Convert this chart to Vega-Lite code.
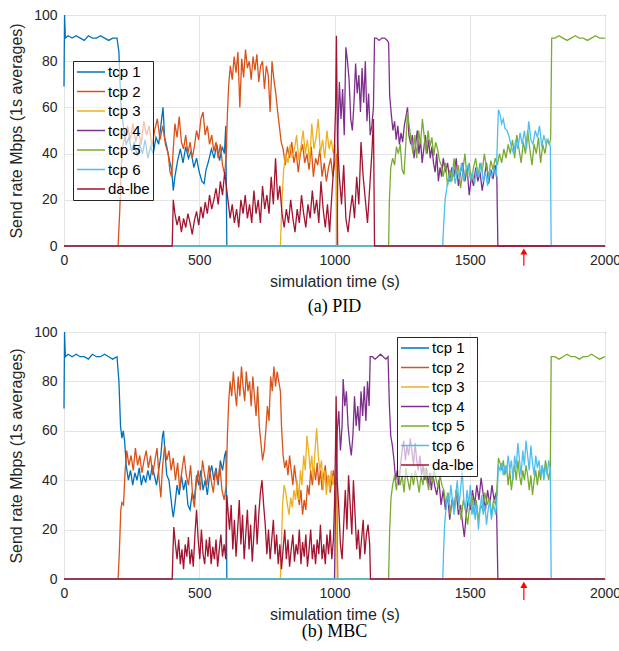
{
"$schema": "https://vega.github.io/schema/vega-lite/v6.json",
"background": "white",
"padding": {"left": 8, "top": 7, "right": 0, "bottom": 0},
"config": {
  "font": "Liberation Sans",
  "view": {"stroke": "#262626", "strokeWidth": 1},
  "axis": {"labelFontSize": 14, "titleFontSize": 16, "labelColor": "#262626", "titleColor": "#262626", "titleFontWeight": "normal", "gridColor": "#e4e4e4", "gridOpacity": 1, "domain": false, "tickSize": 0, "labelPadding": 7, "labelFlush": false},
  "axisX": {"titlePadding": 6, "format": "d"},
  "axisY": {"titlePadding": 9},
  "legend": {"title": null, "symbolType": "M-2,0H2", "symbolSize": 196, "symbolStrokeWidth": 1.5, "symbolOffset": 7, "labelOffset": 9, "labelFontSize": 15, "labelColor": "#000000", "labelExpr": "datum.label + '\u00a0\u00a0\u00a0'", "fillColor": "rgba(255,255,255,0.65)", "strokeColor": "#262626", "padding": 3, "rowPadding": 3.5},
  "title": {"font": "Liberation Serif", "fontSize": 18, "fontWeight": "normal", "color": "#000000"}
},
"datasets": {
"pid": [
{"s":"tcp 1","t":0,"v":69},{"s":"tcp 1","t":2,"v":100},{"s":"tcp 1","t":5,"v":90},{"s":"tcp 1","t":15,"v":91},{"s":"tcp 1","t":30,"v":90},{"s":"tcp 1","t":45,"v":91},{"s":"tcp 1","t":60,"v":90},{"s":"tcp 1","t":75,"v":89},{"s":"tcp 1","t":90,"v":91},{"s":"tcp 1","t":105,"v":90},{"s":"tcp 1","t":120,"v":90},{"s":"tcp 1","t":135,"v":91},{"s":"tcp 1","t":150,"v":90},{"s":"tcp 1","t":165,"v":89},{"s":"tcp 1","t":180,"v":90},{"s":"tcp 1","t":196,"v":90},{"s":"tcp 1","t":203,"v":84},{"s":"tcp 1","t":210,"v":62},{"s":"tcp 1","t":216,"v":55},{"s":"tcp 1","t":222,"v":50},{"s":"tcp 1","t":230,"v":44},{"s":"tcp 1","t":240,"v":47},{"s":"tcp 1","t":250,"v":41},{"s":"tcp 1","t":260,"v":45},{"s":"tcp 1","t":270,"v":39},{"s":"tcp 1","t":280,"v":44},{"s":"tcp 1","t":290,"v":40},{"s":"tcp 1","t":300,"v":46},{"s":"tcp 1","t":310,"v":38},{"s":"tcp 1","t":320,"v":43},{"s":"tcp 1","t":330,"v":40},{"s":"tcp 1","t":340,"v":47},{"s":"tcp 1","t":350,"v":44},{"s":"tcp 1","t":358,"v":52},{"s":"tcp 1","t":366,"v":60},{"s":"tcp 1","t":372,"v":47},{"s":"tcp 1","t":380,"v":43},{"s":"tcp 1","t":390,"v":37},{"s":"tcp 1","t":398,"v":33},{"s":"tcp 1","t":404,"v":24},{"s":"tcp 1","t":410,"v":30},{"s":"tcp 1","t":420,"v":37},{"s":"tcp 1","t":430,"v":42},{"s":"tcp 1","t":440,"v":36},{"s":"tcp 1","t":450,"v":43},{"s":"tcp 1","t":460,"v":38},{"s":"tcp 1","t":470,"v":41},{"s":"tcp 1","t":480,"v":34},{"s":"tcp 1","t":490,"v":38},{"s":"tcp 1","t":500,"v":32},{"s":"tcp 1","t":510,"v":28},{"s":"tcp 1","t":518,"v":27},{"s":"tcp 1","t":525,"v":33},{"s":"tcp 1","t":535,"v":37},{"s":"tcp 1","t":545,"v":42},{"s":"tcp 1","t":555,"v":38},{"s":"tcp 1","t":565,"v":44},{"s":"tcp 1","t":575,"v":37},{"s":"tcp 1","t":585,"v":43},{"s":"tcp 1","t":593,"v":40},{"s":"tcp 1","t":598,"v":52},{"s":"tcp 1","t":602,"v":0},{"s":"tcp 1","t":2000,"v":0},
{"s":"tcp 2","t":0,"v":0},{"s":"tcp 2","t":200,"v":0},{"s":"tcp 2","t":206,"v":15},{"s":"tcp 2","t":212,"v":35},{"s":"tcp 2","t":218,"v":44},{"s":"tcp 2","t":225,"v":47},{"s":"tcp 2","t":235,"v":52},{"s":"tcp 2","t":245,"v":46},{"s":"tcp 2","t":255,"v":53},{"s":"tcp 2","t":265,"v":45},{"s":"tcp 2","t":275,"v":50},{"s":"tcp 2","t":285,"v":44},{"s":"tcp 2","t":295,"v":54},{"s":"tcp 2","t":305,"v":48},{"s":"tcp 2","t":315,"v":52},{"s":"tcp 2","t":325,"v":43},{"s":"tcp 2","t":335,"v":50},{"s":"tcp 2","t":345,"v":55},{"s":"tcp 2","t":355,"v":46},{"s":"tcp 2","t":365,"v":52},{"s":"tcp 2","t":375,"v":44},{"s":"tcp 2","t":385,"v":40},{"s":"tcp 2","t":392,"v":32},{"s":"tcp 2","t":398,"v":30},{"s":"tcp 2","t":404,"v":42},{"s":"tcp 2","t":410,"v":53},{"s":"tcp 2","t":418,"v":47},{"s":"tcp 2","t":426,"v":56},{"s":"tcp 2","t":434,"v":45},{"s":"tcp 2","t":442,"v":42},{"s":"tcp 2","t":450,"v":48},{"s":"tcp 2","t":458,"v":40},{"s":"tcp 2","t":466,"v":45},{"s":"tcp 2","t":474,"v":38},{"s":"tcp 2","t":482,"v":43},{"s":"tcp 2","t":490,"v":50},{"s":"tcp 2","t":498,"v":46},{"s":"tcp 2","t":506,"v":55},{"s":"tcp 2","t":514,"v":58},{"s":"tcp 2","t":522,"v":48},{"s":"tcp 2","t":530,"v":52},{"s":"tcp 2","t":538,"v":44},{"s":"tcp 2","t":546,"v":48},{"s":"tcp 2","t":554,"v":41},{"s":"tcp 2","t":562,"v":45},{"s":"tcp 2","t":570,"v":38},{"s":"tcp 2","t":578,"v":44},{"s":"tcp 2","t":586,"v":35},{"s":"tcp 2","t":594,"v":31},{"s":"tcp 2","t":600,"v":40},{"s":"tcp 2","t":604,"v":57},{"s":"tcp 2","t":609,"v":70},{"s":"tcp 2","t":615,"v":78},{"s":"tcp 2","t":622,"v":72},{"s":"tcp 2","t":629,"v":82},{"s":"tcp 2","t":636,"v":75},{"s":"tcp 2","t":643,"v":84},{"s":"tcp 2","t":650,"v":60},{"s":"tcp 2","t":657,"v":81},{"s":"tcp 2","t":664,"v":73},{"s":"tcp 2","t":671,"v":85},{"s":"tcp 2","t":678,"v":77},{"s":"tcp 2","t":685,"v":80},{"s":"tcp 2","t":692,"v":72},{"s":"tcp 2","t":699,"v":82},{"s":"tcp 2","t":706,"v":76},{"s":"tcp 2","t":713,"v":83},{"s":"tcp 2","t":720,"v":71},{"s":"tcp 2","t":727,"v":78},{"s":"tcp 2","t":734,"v":80},{"s":"tcp 2","t":741,"v":68},{"s":"tcp 2","t":748,"v":78},{"s":"tcp 2","t":755,"v":74},{"s":"tcp 2","t":762,"v":58},{"s":"tcp 2","t":769,"v":80},{"s":"tcp 2","t":776,"v":72},{"s":"tcp 2","t":783,"v":66},{"s":"tcp 2","t":790,"v":58},{"s":"tcp 2","t":796,"v":52},{"s":"tcp 2","t":803,"v":45},{"s":"tcp 2","t":810,"v":42},{"s":"tcp 2","t":818,"v":35},{"s":"tcp 2","t":826,"v":43},{"s":"tcp 2","t":834,"v":38},{"s":"tcp 2","t":842,"v":45},{"s":"tcp 2","t":850,"v":36},{"s":"tcp 2","t":858,"v":41},{"s":"tcp 2","t":866,"v":32},{"s":"tcp 2","t":874,"v":40},{"s":"tcp 2","t":882,"v":44},{"s":"tcp 2","t":890,"v":36},{"s":"tcp 2","t":898,"v":40},{"s":"tcp 2","t":906,"v":33},{"s":"tcp 2","t":914,"v":43},{"s":"tcp 2","t":922,"v":30},{"s":"tcp 2","t":930,"v":38},{"s":"tcp 2","t":938,"v":35},{"s":"tcp 2","t":946,"v":42},{"s":"tcp 2","t":954,"v":30},{"s":"tcp 2","t":962,"v":36},{"s":"tcp 2","t":970,"v":28},{"s":"tcp 2","t":978,"v":34},{"s":"tcp 2","t":986,"v":38},{"s":"tcp 2","t":994,"v":30},{"s":"tcp 2","t":1002,"v":37},{"s":"tcp 2","t":1008,"v":40},{"s":"tcp 2","t":1012,"v":0},{"s":"tcp 2","t":2000,"v":0},
{"s":"tcp 3","t":0,"v":0},{"s":"tcp 3","t":800,"v":0},{"s":"tcp 3","t":806,"v":20},{"s":"tcp 3","t":812,"v":33},{"s":"tcp 3","t":820,"v":40},{"s":"tcp 3","t":828,"v":36},{"s":"tcp 3","t":836,"v":44},{"s":"tcp 3","t":844,"v":38},{"s":"tcp 3","t":852,"v":42},{"s":"tcp 3","t":860,"v":48},{"s":"tcp 3","t":868,"v":37},{"s":"tcp 3","t":876,"v":43},{"s":"tcp 3","t":884,"v":50},{"s":"tcp 3","t":892,"v":40},{"s":"tcp 3","t":900,"v":46},{"s":"tcp 3","t":908,"v":36},{"s":"tcp 3","t":916,"v":53},{"s":"tcp 3","t":924,"v":42},{"s":"tcp 3","t":932,"v":47},{"s":"tcp 3","t":940,"v":55},{"s":"tcp 3","t":948,"v":40},{"s":"tcp 3","t":956,"v":46},{"s":"tcp 3","t":964,"v":38},{"s":"tcp 3","t":972,"v":50},{"s":"tcp 3","t":980,"v":42},{"s":"tcp 3","t":988,"v":46},{"s":"tcp 3","t":996,"v":40},{"s":"tcp 3","t":1004,"v":44},{"s":"tcp 3","t":1010,"v":0},{"s":"tcp 3","t":2000,"v":0},
{"s":"tcp 4","t":0,"v":0},{"s":"tcp 4","t":1010,"v":0},{"s":"tcp 4","t":1013,"v":50},{"s":"tcp 4","t":1018,"v":71},{"s":"tcp 4","t":1024,"v":55},{"s":"tcp 4","t":1030,"v":68},{"s":"tcp 4","t":1036,"v":48},{"s":"tcp 4","t":1042,"v":86},{"s":"tcp 4","t":1048,"v":80},{"s":"tcp 4","t":1054,"v":72},{"s":"tcp 4","t":1060,"v":55},{"s":"tcp 4","t":1066,"v":50},{"s":"tcp 4","t":1072,"v":62},{"s":"tcp 4","t":1078,"v":79},{"s":"tcp 4","t":1084,"v":66},{"s":"tcp 4","t":1090,"v":74},{"s":"tcp 4","t":1096,"v":58},{"s":"tcp 4","t":1102,"v":77},{"s":"tcp 4","t":1108,"v":62},{"s":"tcp 4","t":1114,"v":80},{"s":"tcp 4","t":1120,"v":54},{"s":"tcp 4","t":1126,"v":66},{"s":"tcp 4","t":1132,"v":48},{"s":"tcp 4","t":1138,"v":52},{"s":"tcp 4","t":1144,"v":60},{"s":"tcp 4","t":1148,"v":90},{"s":"tcp 4","t":1155,"v":90},{"s":"tcp 4","t":1165,"v":89},{"s":"tcp 4","t":1175,"v":90},{"s":"tcp 4","t":1185,"v":90},{"s":"tcp 4","t":1195,"v":89},{"s":"tcp 4","t":1200,"v":88},{"s":"tcp 4","t":1204,"v":65},{"s":"tcp 4","t":1210,"v":57},{"s":"tcp 4","t":1216,"v":50},{"s":"tcp 4","t":1222,"v":54},{"s":"tcp 4","t":1228,"v":46},{"s":"tcp 4","t":1234,"v":52},{"s":"tcp 4","t":1240,"v":44},{"s":"tcp 4","t":1246,"v":49},{"s":"tcp 4","t":1252,"v":45},{"s":"tcp 4","t":1258,"v":52},{"s":"tcp 4","t":1264,"v":56},{"s":"tcp 4","t":1270,"v":60},{"s":"tcp 4","t":1275,"v":48},{"s":"tcp 4","t":1282,"v":44},{"s":"tcp 4","t":1288,"v":48},{"s":"tcp 4","t":1294,"v":38},{"s":"tcp 4","t":1300,"v":44},{"s":"tcp 4","t":1306,"v":50},{"s":"tcp 4","t":1312,"v":40},{"s":"tcp 4","t":1318,"v":46},{"s":"tcp 4","t":1324,"v":36},{"s":"tcp 4","t":1330,"v":42},{"s":"tcp 4","t":1336,"v":48},{"s":"tcp 4","t":1342,"v":40},{"s":"tcp 4","t":1348,"v":46},{"s":"tcp 4","t":1354,"v":38},{"s":"tcp 4","t":1360,"v":43},{"s":"tcp 4","t":1366,"v":36},{"s":"tcp 4","t":1372,"v":32},{"s":"tcp 4","t":1378,"v":40},{"s":"tcp 4","t":1384,"v":28},{"s":"tcp 4","t":1390,"v":34},{"s":"tcp 4","t":1396,"v":30},{"s":"tcp 4","t":1402,"v":38},{"s":"tcp 4","t":1410,"v":32},{"s":"tcp 4","t":1418,"v":36},{"s":"tcp 4","t":1426,"v":28},{"s":"tcp 4","t":1434,"v":34},{"s":"tcp 4","t":1442,"v":30},{"s":"tcp 4","t":1450,"v":38},{"s":"tcp 4","t":1458,"v":26},{"s":"tcp 4","t":1466,"v":32},{"s":"tcp 4","t":1474,"v":36},{"s":"tcp 4","t":1482,"v":28},{"s":"tcp 4","t":1490,"v":34},{"s":"tcp 4","t":1498,"v":22},{"s":"tcp 4","t":1506,"v":30},{"s":"tcp 4","t":1514,"v":26},{"s":"tcp 4","t":1522,"v":34},{"s":"tcp 4","t":1530,"v":28},{"s":"tcp 4","t":1538,"v":32},{"s":"tcp 4","t":1546,"v":24},{"s":"tcp 4","t":1554,"v":30},{"s":"tcp 4","t":1562,"v":36},{"s":"tcp 4","t":1570,"v":27},{"s":"tcp 4","t":1578,"v":33},{"s":"tcp 4","t":1586,"v":29},{"s":"tcp 4","t":1594,"v":35},{"s":"tcp 4","t":1600,"v":30},{"s":"tcp 4","t":1604,"v":0},{"s":"tcp 4","t":2000,"v":0},
{"s":"tcp 5","t":0,"v":0},{"s":"tcp 5","t":1200,"v":0},{"s":"tcp 5","t":1203,"v":20},{"s":"tcp 5","t":1208,"v":34},{"s":"tcp 5","t":1215,"v":38},{"s":"tcp 5","t":1222,"v":35},{"s":"tcp 5","t":1229,"v":43},{"s":"tcp 5","t":1236,"v":40},{"s":"tcp 5","t":1243,"v":44},{"s":"tcp 5","t":1250,"v":33},{"s":"tcp 5","t":1257,"v":31},{"s":"tcp 5","t":1264,"v":45},{"s":"tcp 5","t":1270,"v":58},{"s":"tcp 5","t":1276,"v":52},{"s":"tcp 5","t":1283,"v":46},{"s":"tcp 5","t":1290,"v":40},{"s":"tcp 5","t":1297,"v":48},{"s":"tcp 5","t":1304,"v":38},{"s":"tcp 5","t":1311,"v":50},{"s":"tcp 5","t":1318,"v":44},{"s":"tcp 5","t":1325,"v":55},{"s":"tcp 5","t":1332,"v":47},{"s":"tcp 5","t":1339,"v":40},{"s":"tcp 5","t":1346,"v":50},{"s":"tcp 5","t":1353,"v":43},{"s":"tcp 5","t":1360,"v":47},{"s":"tcp 5","t":1367,"v":39},{"s":"tcp 5","t":1374,"v":45},{"s":"tcp 5","t":1381,"v":42},{"s":"tcp 5","t":1388,"v":37},{"s":"tcp 5","t":1395,"v":35},{"s":"tcp 5","t":1402,"v":30},{"s":"tcp 5","t":1410,"v":36},{"s":"tcp 5","t":1418,"v":26},{"s":"tcp 5","t":1426,"v":33},{"s":"tcp 5","t":1434,"v":28},{"s":"tcp 5","t":1442,"v":38},{"s":"tcp 5","t":1450,"v":30},{"s":"tcp 5","t":1458,"v":35},{"s":"tcp 5","t":1466,"v":25},{"s":"tcp 5","t":1474,"v":32},{"s":"tcp 5","t":1482,"v":40},{"s":"tcp 5","t":1490,"v":30},{"s":"tcp 5","t":1498,"v":36},{"s":"tcp 5","t":1506,"v":28},{"s":"tcp 5","t":1514,"v":34},{"s":"tcp 5","t":1522,"v":38},{"s":"tcp 5","t":1530,"v":30},{"s":"tcp 5","t":1538,"v":36},{"s":"tcp 5","t":1546,"v":32},{"s":"tcp 5","t":1554,"v":40},{"s":"tcp 5","t":1562,"v":34},{"s":"tcp 5","t":1570,"v":30},{"s":"tcp 5","t":1578,"v":37},{"s":"tcp 5","t":1586,"v":33},{"s":"tcp 5","t":1594,"v":38},{"s":"tcp 5","t":1602,"v":35},{"s":"tcp 5","t":1610,"v":40},{"s":"tcp 5","t":1618,"v":36},{"s":"tcp 5","t":1626,"v":42},{"s":"tcp 5","t":1634,"v":38},{"s":"tcp 5","t":1642,"v":44},{"s":"tcp 5","t":1650,"v":40},{"s":"tcp 5","t":1658,"v":46},{"s":"tcp 5","t":1666,"v":38},{"s":"tcp 5","t":1674,"v":48},{"s":"tcp 5","t":1682,"v":42},{"s":"tcp 5","t":1690,"v":36},{"s":"tcp 5","t":1698,"v":45},{"s":"tcp 5","t":1706,"v":40},{"s":"tcp 5","t":1714,"v":50},{"s":"tcp 5","t":1722,"v":42},{"s":"tcp 5","t":1730,"v":35},{"s":"tcp 5","t":1738,"v":44},{"s":"tcp 5","t":1746,"v":40},{"s":"tcp 5","t":1754,"v":47},{"s":"tcp 5","t":1762,"v":36},{"s":"tcp 5","t":1770,"v":44},{"s":"tcp 5","t":1778,"v":40},{"s":"tcp 5","t":1786,"v":46},{"s":"tcp 5","t":1794,"v":44},{"s":"tcp 5","t":1799,"v":46},{"s":"tcp 5","t":1803,"v":90},{"s":"tcp 5","t":1815,"v":90},{"s":"tcp 5","t":1830,"v":91},{"s":"tcp 5","t":1845,"v":90},{"s":"tcp 5","t":1860,"v":89},{"s":"tcp 5","t":1875,"v":90},{"s":"tcp 5","t":1890,"v":91},{"s":"tcp 5","t":1905,"v":90},{"s":"tcp 5","t":1920,"v":90},{"s":"tcp 5","t":1935,"v":89},{"s":"tcp 5","t":1950,"v":90},{"s":"tcp 5","t":1965,"v":91},{"s":"tcp 5","t":1980,"v":90},{"s":"tcp 5","t":2000,"v":90},
{"s":"tcp 6","t":0,"v":0},{"s":"tcp 6","t":1400,"v":0},{"s":"tcp 6","t":1404,"v":10},{"s":"tcp 6","t":1409,"v":20},{"s":"tcp 6","t":1415,"v":25},{"s":"tcp 6","t":1422,"v":30},{"s":"tcp 6","t":1430,"v":28},{"s":"tcp 6","t":1438,"v":34},{"s":"tcp 6","t":1446,"v":27},{"s":"tcp 6","t":1454,"v":32},{"s":"tcp 6","t":1462,"v":30},{"s":"tcp 6","t":1470,"v":36},{"s":"tcp 6","t":1478,"v":28},{"s":"tcp 6","t":1486,"v":33},{"s":"tcp 6","t":1494,"v":35},{"s":"tcp 6","t":1502,"v":29},{"s":"tcp 6","t":1510,"v":32},{"s":"tcp 6","t":1518,"v":27},{"s":"tcp 6","t":1526,"v":34},{"s":"tcp 6","t":1534,"v":30},{"s":"tcp 6","t":1542,"v":36},{"s":"tcp 6","t":1550,"v":28},{"s":"tcp 6","t":1558,"v":32},{"s":"tcp 6","t":1566,"v":26},{"s":"tcp 6","t":1574,"v":33},{"s":"tcp 6","t":1582,"v":30},{"s":"tcp 6","t":1590,"v":34},{"s":"tcp 6","t":1598,"v":30},{"s":"tcp 6","t":1602,"v":45},{"s":"tcp 6","t":1606,"v":59},{"s":"tcp 6","t":1612,"v":57},{"s":"tcp 6","t":1618,"v":53},{"s":"tcp 6","t":1624,"v":55},{"s":"tcp 6","t":1630,"v":51},{"s":"tcp 6","t":1638,"v":50},{"s":"tcp 6","t":1646,"v":47},{"s":"tcp 6","t":1654,"v":43},{"s":"tcp 6","t":1662,"v":40},{"s":"tcp 6","t":1670,"v":46},{"s":"tcp 6","t":1678,"v":42},{"s":"tcp 6","t":1686,"v":49},{"s":"tcp 6","t":1694,"v":44},{"s":"tcp 6","t":1702,"v":50},{"s":"tcp 6","t":1710,"v":42},{"s":"tcp 6","t":1718,"v":54},{"s":"tcp 6","t":1726,"v":46},{"s":"tcp 6","t":1734,"v":44},{"s":"tcp 6","t":1742,"v":50},{"s":"tcp 6","t":1750,"v":47},{"s":"tcp 6","t":1758,"v":52},{"s":"tcp 6","t":1766,"v":43},{"s":"tcp 6","t":1774,"v":48},{"s":"tcp 6","t":1782,"v":44},{"s":"tcp 6","t":1790,"v":46},{"s":"tcp 6","t":1798,"v":43},{"s":"tcp 6","t":1801,"v":0},{"s":"tcp 6","t":2000,"v":0},
{"s":"da-lbe","t":0,"v":0},{"s":"da-lbe","t":400,"v":0},{"s":"da-lbe","t":404,"v":20},{"s":"da-lbe","t":410,"v":14},{"s":"da-lbe","t":418,"v":9},{"s":"da-lbe","t":426,"v":13},{"s":"da-lbe","t":434,"v":6},{"s":"da-lbe","t":442,"v":12},{"s":"da-lbe","t":450,"v":8},{"s":"da-lbe","t":458,"v":14},{"s":"da-lbe","t":466,"v":10},{"s":"da-lbe","t":474,"v":5},{"s":"da-lbe","t":482,"v":11},{"s":"da-lbe","t":490,"v":15},{"s":"da-lbe","t":498,"v":9},{"s":"da-lbe","t":506,"v":17},{"s":"da-lbe","t":514,"v":12},{"s":"da-lbe","t":522,"v":19},{"s":"da-lbe","t":530,"v":14},{"s":"da-lbe","t":538,"v":22},{"s":"da-lbe","t":546,"v":16},{"s":"da-lbe","t":554,"v":20},{"s":"da-lbe","t":562,"v":25},{"s":"da-lbe","t":570,"v":18},{"s":"da-lbe","t":578,"v":28},{"s":"da-lbe","t":586,"v":22},{"s":"da-lbe","t":594,"v":32},{"s":"da-lbe","t":600,"v":26},{"s":"da-lbe","t":606,"v":20},{"s":"da-lbe","t":614,"v":12},{"s":"da-lbe","t":622,"v":18},{"s":"da-lbe","t":630,"v":10},{"s":"da-lbe","t":638,"v":16},{"s":"da-lbe","t":646,"v":8},{"s":"da-lbe","t":654,"v":20},{"s":"da-lbe","t":662,"v":14},{"s":"da-lbe","t":670,"v":22},{"s":"da-lbe","t":678,"v":12},{"s":"da-lbe","t":686,"v":18},{"s":"da-lbe","t":694,"v":10},{"s":"da-lbe","t":702,"v":24},{"s":"da-lbe","t":710,"v":14},{"s":"da-lbe","t":718,"v":20},{"s":"da-lbe","t":726,"v":10},{"s":"da-lbe","t":734,"v":26},{"s":"da-lbe","t":742,"v":16},{"s":"da-lbe","t":750,"v":22},{"s":"da-lbe","t":758,"v":14},{"s":"da-lbe","t":766,"v":30},{"s":"da-lbe","t":774,"v":18},{"s":"da-lbe","t":782,"v":38},{"s":"da-lbe","t":790,"v":20},{"s":"da-lbe","t":798,"v":26},{"s":"da-lbe","t":806,"v":14},{"s":"da-lbe","t":814,"v":8},{"s":"da-lbe","t":822,"v":16},{"s":"da-lbe","t":830,"v":10},{"s":"da-lbe","t":838,"v":20},{"s":"da-lbe","t":846,"v":12},{"s":"da-lbe","t":854,"v":6},{"s":"da-lbe","t":862,"v":16},{"s":"da-lbe","t":870,"v":10},{"s":"da-lbe","t":878,"v":22},{"s":"da-lbe","t":886,"v":14},{"s":"da-lbe","t":894,"v":8},{"s":"da-lbe","t":902,"v":18},{"s":"da-lbe","t":910,"v":12},{"s":"da-lbe","t":918,"v":24},{"s":"da-lbe","t":926,"v":14},{"s":"da-lbe","t":934,"v":20},{"s":"da-lbe","t":942,"v":10},{"s":"da-lbe","t":950,"v":28},{"s":"da-lbe","t":958,"v":16},{"s":"da-lbe","t":966,"v":8},{"s":"da-lbe","t":974,"v":18},{"s":"da-lbe","t":982,"v":6},{"s":"da-lbe","t":990,"v":22},{"s":"da-lbe","t":998,"v":36},{"s":"da-lbe","t":1004,"v":60},{"s":"da-lbe","t":1007,"v":91},{"s":"da-lbe","t":1011,"v":45},{"s":"da-lbe","t":1018,"v":30},{"s":"da-lbe","t":1026,"v":18},{"s":"da-lbe","t":1034,"v":35},{"s":"da-lbe","t":1042,"v":12},{"s":"da-lbe","t":1050,"v":6},{"s":"da-lbe","t":1058,"v":15},{"s":"da-lbe","t":1066,"v":22},{"s":"da-lbe","t":1074,"v":12},{"s":"da-lbe","t":1082,"v":30},{"s":"da-lbe","t":1090,"v":18},{"s":"da-lbe","t":1098,"v":45},{"s":"da-lbe","t":1106,"v":30},{"s":"da-lbe","t":1114,"v":20},{"s":"da-lbe","t":1122,"v":10},{"s":"da-lbe","t":1130,"v":25},{"s":"da-lbe","t":1138,"v":40},{"s":"da-lbe","t":1144,"v":55},{"s":"da-lbe","t":1148,"v":0},{"s":"da-lbe","t":2000,"v":0}
],
"mbc": [
{"s":"tcp 1","t":0,"v":69},{"s":"tcp 1","t":2,"v":100},{"s":"tcp 1","t":5,"v":90},{"s":"tcp 1","t":15,"v":91},{"s":"tcp 1","t":30,"v":90},{"s":"tcp 1","t":45,"v":91},{"s":"tcp 1","t":60,"v":90},{"s":"tcp 1","t":75,"v":90},{"s":"tcp 1","t":90,"v":89},{"s":"tcp 1","t":105,"v":91},{"s":"tcp 1","t":120,"v":90},{"s":"tcp 1","t":135,"v":90},{"s":"tcp 1","t":150,"v":91},{"s":"tcp 1","t":165,"v":90},{"s":"tcp 1","t":180,"v":89},{"s":"tcp 1","t":196,"v":90},{"s":"tcp 1","t":203,"v":80},{"s":"tcp 1","t":209,"v":62},{"s":"tcp 1","t":214,"v":57},{"s":"tcp 1","t":219,"v":60},{"s":"tcp 1","t":224,"v":56},{"s":"tcp 1","t":230,"v":46},{"s":"tcp 1","t":238,"v":40},{"s":"tcp 1","t":246,"v":44},{"s":"tcp 1","t":254,"v":38},{"s":"tcp 1","t":262,"v":43},{"s":"tcp 1","t":270,"v":40},{"s":"tcp 1","t":278,"v":45},{"s":"tcp 1","t":286,"v":38},{"s":"tcp 1","t":294,"v":42},{"s":"tcp 1","t":302,"v":39},{"s":"tcp 1","t":310,"v":44},{"s":"tcp 1","t":318,"v":40},{"s":"tcp 1","t":326,"v":46},{"s":"tcp 1","t":334,"v":42},{"s":"tcp 1","t":342,"v":38},{"s":"tcp 1","t":350,"v":44},{"s":"tcp 1","t":358,"v":50},{"s":"tcp 1","t":364,"v":58},{"s":"tcp 1","t":368,"v":60},{"s":"tcp 1","t":374,"v":50},{"s":"tcp 1","t":380,"v":42},{"s":"tcp 1","t":388,"v":40},{"s":"tcp 1","t":394,"v":34},{"s":"tcp 1","t":400,"v":28},{"s":"tcp 1","t":404,"v":25},{"s":"tcp 1","t":410,"v":30},{"s":"tcp 1","t":418,"v":38},{"s":"tcp 1","t":426,"v":34},{"s":"tcp 1","t":434,"v":42},{"s":"tcp 1","t":442,"v":36},{"s":"tcp 1","t":450,"v":40},{"s":"tcp 1","t":458,"v":30},{"s":"tcp 1","t":466,"v":28},{"s":"tcp 1","t":474,"v":35},{"s":"tcp 1","t":482,"v":32},{"s":"tcp 1","t":490,"v":42},{"s":"tcp 1","t":498,"v":38},{"s":"tcp 1","t":506,"v":44},{"s":"tcp 1","t":514,"v":36},{"s":"tcp 1","t":522,"v":40},{"s":"tcp 1","t":530,"v":34},{"s":"tcp 1","t":538,"v":42},{"s":"tcp 1","t":546,"v":46},{"s":"tcp 1","t":554,"v":40},{"s":"tcp 1","t":562,"v":45},{"s":"tcp 1","t":570,"v":38},{"s":"tcp 1","t":578,"v":48},{"s":"tcp 1","t":586,"v":44},{"s":"tcp 1","t":594,"v":50},{"s":"tcp 1","t":599,"v":52},{"s":"tcp 1","t":602,"v":0},{"s":"tcp 1","t":2000,"v":0},
{"s":"tcp 2","t":0,"v":0},{"s":"tcp 2","t":200,"v":0},{"s":"tcp 2","t":205,"v":12},{"s":"tcp 2","t":210,"v":28},{"s":"tcp 2","t":214,"v":31},{"s":"tcp 2","t":220,"v":30},{"s":"tcp 2","t":226,"v":44},{"s":"tcp 2","t":232,"v":52},{"s":"tcp 2","t":240,"v":46},{"s":"tcp 2","t":248,"v":50},{"s":"tcp 2","t":256,"v":44},{"s":"tcp 2","t":264,"v":53},{"s":"tcp 2","t":272,"v":46},{"s":"tcp 2","t":280,"v":50},{"s":"tcp 2","t":288,"v":43},{"s":"tcp 2","t":296,"v":48},{"s":"tcp 2","t":304,"v":52},{"s":"tcp 2","t":312,"v":45},{"s":"tcp 2","t":320,"v":50},{"s":"tcp 2","t":328,"v":42},{"s":"tcp 2","t":336,"v":48},{"s":"tcp 2","t":344,"v":53},{"s":"tcp 2","t":352,"v":40},{"s":"tcp 2","t":358,"v":33},{"s":"tcp 2","t":364,"v":45},{"s":"tcp 2","t":372,"v":54},{"s":"tcp 2","t":380,"v":48},{"s":"tcp 2","t":388,"v":52},{"s":"tcp 2","t":396,"v":44},{"s":"tcp 2","t":404,"v":49},{"s":"tcp 2","t":412,"v":40},{"s":"tcp 2","t":420,"v":47},{"s":"tcp 2","t":428,"v":36},{"s":"tcp 2","t":436,"v":44},{"s":"tcp 2","t":444,"v":50},{"s":"tcp 2","t":452,"v":42},{"s":"tcp 2","t":460,"v":38},{"s":"tcp 2","t":468,"v":46},{"s":"tcp 2","t":476,"v":33},{"s":"tcp 2","t":482,"v":29},{"s":"tcp 2","t":488,"v":38},{"s":"tcp 2","t":496,"v":44},{"s":"tcp 2","t":504,"v":36},{"s":"tcp 2","t":512,"v":48},{"s":"tcp 2","t":520,"v":42},{"s":"tcp 2","t":528,"v":38},{"s":"tcp 2","t":536,"v":46},{"s":"tcp 2","t":544,"v":40},{"s":"tcp 2","t":552,"v":35},{"s":"tcp 2","t":560,"v":44},{"s":"tcp 2","t":568,"v":39},{"s":"tcp 2","t":576,"v":46},{"s":"tcp 2","t":584,"v":36},{"s":"tcp 2","t":592,"v":32},{"s":"tcp 2","t":600,"v":38},{"s":"tcp 2","t":604,"v":58},{"s":"tcp 2","t":609,"v":72},{"s":"tcp 2","t":614,"v":80},{"s":"tcp 2","t":620,"v":74},{"s":"tcp 2","t":626,"v":84},{"s":"tcp 2","t":632,"v":76},{"s":"tcp 2","t":638,"v":70},{"s":"tcp 2","t":644,"v":82},{"s":"tcp 2","t":650,"v":74},{"s":"tcp 2","t":656,"v":86},{"s":"tcp 2","t":662,"v":78},{"s":"tcp 2","t":668,"v":72},{"s":"tcp 2","t":674,"v":84},{"s":"tcp 2","t":680,"v":76},{"s":"tcp 2","t":686,"v":80},{"s":"tcp 2","t":692,"v":70},{"s":"tcp 2","t":698,"v":82},{"s":"tcp 2","t":704,"v":74},{"s":"tcp 2","t":710,"v":66},{"s":"tcp 2","t":716,"v":78},{"s":"tcp 2","t":722,"v":62},{"s":"tcp 2","t":728,"v":55},{"s":"tcp 2","t":734,"v":48},{"s":"tcp 2","t":740,"v":52},{"s":"tcp 2","t":746,"v":60},{"s":"tcp 2","t":752,"v":70},{"s":"tcp 2","t":758,"v":64},{"s":"tcp 2","t":764,"v":82},{"s":"tcp 2","t":770,"v":76},{"s":"tcp 2","t":776,"v":86},{"s":"tcp 2","t":782,"v":78},{"s":"tcp 2","t":788,"v":84},{"s":"tcp 2","t":794,"v":80},{"s":"tcp 2","t":800,"v":76},{"s":"tcp 2","t":804,"v":62},{"s":"tcp 2","t":810,"v":50},{"s":"tcp 2","t":816,"v":45},{"s":"tcp 2","t":822,"v":48},{"s":"tcp 2","t":828,"v":42},{"s":"tcp 2","t":834,"v":50},{"s":"tcp 2","t":840,"v":44},{"s":"tcp 2","t":846,"v":38},{"s":"tcp 2","t":852,"v":46},{"s":"tcp 2","t":858,"v":40},{"s":"tcp 2","t":864,"v":34},{"s":"tcp 2","t":870,"v":30},{"s":"tcp 2","t":876,"v":36},{"s":"tcp 2","t":882,"v":26},{"s":"tcp 2","t":888,"v":32},{"s":"tcp 2","t":894,"v":28},{"s":"tcp 2","t":900,"v":38},{"s":"tcp 2","t":906,"v":34},{"s":"tcp 2","t":912,"v":44},{"s":"tcp 2","t":918,"v":38},{"s":"tcp 2","t":924,"v":45},{"s":"tcp 2","t":930,"v":40},{"s":"tcp 2","t":936,"v":47},{"s":"tcp 2","t":942,"v":38},{"s":"tcp 2","t":948,"v":44},{"s":"tcp 2","t":954,"v":36},{"s":"tcp 2","t":960,"v":42},{"s":"tcp 2","t":966,"v":46},{"s":"tcp 2","t":972,"v":38},{"s":"tcp 2","t":978,"v":42},{"s":"tcp 2","t":984,"v":35},{"s":"tcp 2","t":990,"v":40},{"s":"tcp 2","t":996,"v":44},{"s":"tcp 2","t":1002,"v":38},{"s":"tcp 2","t":1008,"v":41},{"s":"tcp 2","t":1012,"v":0},{"s":"tcp 2","t":2000,"v":0},
{"s":"tcp 3","t":0,"v":0},{"s":"tcp 3","t":800,"v":0},{"s":"tcp 3","t":804,"v":15},{"s":"tcp 3","t":808,"v":30},{"s":"tcp 3","t":814,"v":38},{"s":"tcp 3","t":820,"v":35},{"s":"tcp 3","t":826,"v":30},{"s":"tcp 3","t":832,"v":26},{"s":"tcp 3","t":838,"v":33},{"s":"tcp 3","t":844,"v":29},{"s":"tcp 3","t":850,"v":36},{"s":"tcp 3","t":856,"v":32},{"s":"tcp 3","t":862,"v":40},{"s":"tcp 3","t":868,"v":32},{"s":"tcp 3","t":874,"v":44},{"s":"tcp 3","t":880,"v":38},{"s":"tcp 3","t":886,"v":50},{"s":"tcp 3","t":892,"v":44},{"s":"tcp 3","t":898,"v":58},{"s":"tcp 3","t":904,"v":52},{"s":"tcp 3","t":910,"v":44},{"s":"tcp 3","t":916,"v":50},{"s":"tcp 3","t":922,"v":40},{"s":"tcp 3","t":928,"v":52},{"s":"tcp 3","t":934,"v":61},{"s":"tcp 3","t":940,"v":50},{"s":"tcp 3","t":946,"v":44},{"s":"tcp 3","t":952,"v":48},{"s":"tcp 3","t":958,"v":36},{"s":"tcp 3","t":964,"v":44},{"s":"tcp 3","t":970,"v":34},{"s":"tcp 3","t":976,"v":42},{"s":"tcp 3","t":982,"v":36},{"s":"tcp 3","t":988,"v":44},{"s":"tcp 3","t":994,"v":38},{"s":"tcp 3","t":1000,"v":42},{"s":"tcp 3","t":1006,"v":40},{"s":"tcp 3","t":1010,"v":0},{"s":"tcp 3","t":2000,"v":0},
{"s":"tcp 4","t":0,"v":0},{"s":"tcp 4","t":1000,"v":0},{"s":"tcp 4","t":1004,"v":30},{"s":"tcp 4","t":1010,"v":60},{"s":"tcp 4","t":1016,"v":68},{"s":"tcp 4","t":1022,"v":52},{"s":"tcp 4","t":1028,"v":62},{"s":"tcp 4","t":1032,"v":81},{"s":"tcp 4","t":1038,"v":70},{"s":"tcp 4","t":1044,"v":76},{"s":"tcp 4","t":1050,"v":62},{"s":"tcp 4","t":1056,"v":55},{"s":"tcp 4","t":1062,"v":50},{"s":"tcp 4","t":1068,"v":58},{"s":"tcp 4","t":1074,"v":74},{"s":"tcp 4","t":1080,"v":62},{"s":"tcp 4","t":1086,"v":70},{"s":"tcp 4","t":1092,"v":60},{"s":"tcp 4","t":1098,"v":76},{"s":"tcp 4","t":1104,"v":66},{"s":"tcp 4","t":1110,"v":78},{"s":"tcp 4","t":1116,"v":64},{"s":"tcp 4","t":1122,"v":80},{"s":"tcp 4","t":1128,"v":70},{"s":"tcp 4","t":1132,"v":90},{"s":"tcp 4","t":1140,"v":90},{"s":"tcp 4","t":1150,"v":89},{"s":"tcp 4","t":1160,"v":90},{"s":"tcp 4","t":1170,"v":91},{"s":"tcp 4","t":1180,"v":90},{"s":"tcp 4","t":1190,"v":89},{"s":"tcp 4","t":1198,"v":90},{"s":"tcp 4","t":1203,"v":70},{"s":"tcp 4","t":1208,"v":58},{"s":"tcp 4","t":1214,"v":54},{"s":"tcp 4","t":1220,"v":48},{"s":"tcp 4","t":1226,"v":40},{"s":"tcp 4","t":1232,"v":44},{"s":"tcp 4","t":1238,"v":38},{"s":"tcp 4","t":1244,"v":46},{"s":"tcp 4","t":1250,"v":52},{"s":"tcp 4","t":1256,"v":56},{"s":"tcp 4","t":1262,"v":48},{"s":"tcp 4","t":1268,"v":54},{"s":"tcp 4","t":1274,"v":50},{"s":"tcp 4","t":1280,"v":57},{"s":"tcp 4","t":1286,"v":52},{"s":"tcp 4","t":1292,"v":46},{"s":"tcp 4","t":1298,"v":55},{"s":"tcp 4","t":1304,"v":48},{"s":"tcp 4","t":1310,"v":44},{"s":"tcp 4","t":1316,"v":50},{"s":"tcp 4","t":1322,"v":42},{"s":"tcp 4","t":1328,"v":46},{"s":"tcp 4","t":1334,"v":40},{"s":"tcp 4","t":1340,"v":45},{"s":"tcp 4","t":1346,"v":38},{"s":"tcp 4","t":1352,"v":43},{"s":"tcp 4","t":1358,"v":36},{"s":"tcp 4","t":1364,"v":42},{"s":"tcp 4","t":1370,"v":38},{"s":"tcp 4","t":1378,"v":34},{"s":"tcp 4","t":1386,"v":40},{"s":"tcp 4","t":1394,"v":30},{"s":"tcp 4","t":1402,"v":36},{"s":"tcp 4","t":1410,"v":28},{"s":"tcp 4","t":1418,"v":34},{"s":"tcp 4","t":1426,"v":24},{"s":"tcp 4","t":1434,"v":32},{"s":"tcp 4","t":1442,"v":28},{"s":"tcp 4","t":1450,"v":36},{"s":"tcp 4","t":1458,"v":26},{"s":"tcp 4","t":1466,"v":30},{"s":"tcp 4","t":1474,"v":22},{"s":"tcp 4","t":1480,"v":17},{"s":"tcp 4","t":1486,"v":25},{"s":"tcp 4","t":1494,"v":32},{"s":"tcp 4","t":1502,"v":28},{"s":"tcp 4","t":1510,"v":36},{"s":"tcp 4","t":1518,"v":30},{"s":"tcp 4","t":1526,"v":38},{"s":"tcp 4","t":1534,"v":32},{"s":"tcp 4","t":1542,"v":41},{"s":"tcp 4","t":1550,"v":34},{"s":"tcp 4","t":1558,"v":28},{"s":"tcp 4","t":1566,"v":36},{"s":"tcp 4","t":1574,"v":30},{"s":"tcp 4","t":1582,"v":38},{"s":"tcp 4","t":1590,"v":32},{"s":"tcp 4","t":1598,"v":35},{"s":"tcp 4","t":1604,"v":0},{"s":"tcp 4","t":2000,"v":0},
{"s":"tcp 5","t":0,"v":0},{"s":"tcp 5","t":1200,"v":0},{"s":"tcp 5","t":1204,"v":20},{"s":"tcp 5","t":1209,"v":33},{"s":"tcp 5","t":1215,"v":38},{"s":"tcp 5","t":1222,"v":42},{"s":"tcp 5","t":1229,"v":36},{"s":"tcp 5","t":1236,"v":44},{"s":"tcp 5","t":1243,"v":38},{"s":"tcp 5","t":1250,"v":42},{"s":"tcp 5","t":1257,"v":35},{"s":"tcp 5","t":1264,"v":45},{"s":"tcp 5","t":1271,"v":40},{"s":"tcp 5","t":1278,"v":36},{"s":"tcp 5","t":1285,"v":43},{"s":"tcp 5","t":1292,"v":38},{"s":"tcp 5","t":1299,"v":44},{"s":"tcp 5","t":1306,"v":40},{"s":"tcp 5","t":1313,"v":35},{"s":"tcp 5","t":1320,"v":42},{"s":"tcp 5","t":1327,"v":38},{"s":"tcp 5","t":1334,"v":45},{"s":"tcp 5","t":1341,"v":40},{"s":"tcp 5","t":1348,"v":36},{"s":"tcp 5","t":1355,"v":43},{"s":"tcp 5","t":1362,"v":39},{"s":"tcp 5","t":1369,"v":44},{"s":"tcp 5","t":1376,"v":40},{"s":"tcp 5","t":1383,"v":37},{"s":"tcp 5","t":1390,"v":42},{"s":"tcp 5","t":1397,"v":38},{"s":"tcp 5","t":1404,"v":36},{"s":"tcp 5","t":1412,"v":30},{"s":"tcp 5","t":1420,"v":35},{"s":"tcp 5","t":1428,"v":26},{"s":"tcp 5","t":1436,"v":33},{"s":"tcp 5","t":1444,"v":28},{"s":"tcp 5","t":1452,"v":36},{"s":"tcp 5","t":1460,"v":30},{"s":"tcp 5","t":1468,"v":24},{"s":"tcp 5","t":1476,"v":32},{"s":"tcp 5","t":1484,"v":28},{"s":"tcp 5","t":1492,"v":22},{"s":"tcp 5","t":1500,"v":30},{"s":"tcp 5","t":1508,"v":34},{"s":"tcp 5","t":1516,"v":26},{"s":"tcp 5","t":1524,"v":32},{"s":"tcp 5","t":1532,"v":24},{"s":"tcp 5","t":1540,"v":30},{"s":"tcp 5","t":1548,"v":28},{"s":"tcp 5","t":1556,"v":35},{"s":"tcp 5","t":1564,"v":30},{"s":"tcp 5","t":1572,"v":33},{"s":"tcp 5","t":1580,"v":26},{"s":"tcp 5","t":1588,"v":32},{"s":"tcp 5","t":1596,"v":30},{"s":"tcp 5","t":1602,"v":40},{"s":"tcp 5","t":1606,"v":49},{"s":"tcp 5","t":1612,"v":47},{"s":"tcp 5","t":1618,"v":44},{"s":"tcp 5","t":1624,"v":48},{"s":"tcp 5","t":1630,"v":42},{"s":"tcp 5","t":1636,"v":46},{"s":"tcp 5","t":1642,"v":38},{"s":"tcp 5","t":1648,"v":44},{"s":"tcp 5","t":1654,"v":36},{"s":"tcp 5","t":1660,"v":42},{"s":"tcp 5","t":1666,"v":46},{"s":"tcp 5","t":1672,"v":40},{"s":"tcp 5","t":1678,"v":48},{"s":"tcp 5","t":1684,"v":42},{"s":"tcp 5","t":1690,"v":38},{"s":"tcp 5","t":1696,"v":44},{"s":"tcp 5","t":1702,"v":40},{"s":"tcp 5","t":1708,"v":46},{"s":"tcp 5","t":1714,"v":42},{"s":"tcp 5","t":1720,"v":36},{"s":"tcp 5","t":1726,"v":42},{"s":"tcp 5","t":1732,"v":34},{"s":"tcp 5","t":1738,"v":40},{"s":"tcp 5","t":1744,"v":44},{"s":"tcp 5","t":1750,"v":38},{"s":"tcp 5","t":1756,"v":44},{"s":"tcp 5","t":1762,"v":40},{"s":"tcp 5","t":1768,"v":46},{"s":"tcp 5","t":1774,"v":42},{"s":"tcp 5","t":1780,"v":48},{"s":"tcp 5","t":1786,"v":44},{"s":"tcp 5","t":1792,"v":40},{"s":"tcp 5","t":1798,"v":45},{"s":"tcp 5","t":1801,"v":90},{"s":"tcp 5","t":1815,"v":90},{"s":"tcp 5","t":1830,"v":89},{"s":"tcp 5","t":1845,"v":90},{"s":"tcp 5","t":1860,"v":91},{"s":"tcp 5","t":1875,"v":90},{"s":"tcp 5","t":1890,"v":90},{"s":"tcp 5","t":1905,"v":89},{"s":"tcp 5","t":1920,"v":90},{"s":"tcp 5","t":1935,"v":90},{"s":"tcp 5","t":1950,"v":91},{"s":"tcp 5","t":1965,"v":90},{"s":"tcp 5","t":1980,"v":89},{"s":"tcp 5","t":2000,"v":90},
{"s":"tcp 6","t":0,"v":0},{"s":"tcp 6","t":1400,"v":0},{"s":"tcp 6","t":1403,"v":10},{"s":"tcp 6","t":1407,"v":22},{"s":"tcp 6","t":1412,"v":28},{"s":"tcp 6","t":1418,"v":35},{"s":"tcp 6","t":1424,"v":30},{"s":"tcp 6","t":1430,"v":38},{"s":"tcp 6","t":1436,"v":32},{"s":"tcp 6","t":1442,"v":26},{"s":"tcp 6","t":1448,"v":34},{"s":"tcp 6","t":1454,"v":40},{"s":"tcp 6","t":1460,"v":30},{"s":"tcp 6","t":1466,"v":36},{"s":"tcp 6","t":1472,"v":44},{"s":"tcp 6","t":1478,"v":32},{"s":"tcp 6","t":1484,"v":28},{"s":"tcp 6","t":1490,"v":36},{"s":"tcp 6","t":1496,"v":30},{"s":"tcp 6","t":1502,"v":38},{"s":"tcp 6","t":1508,"v":26},{"s":"tcp 6","t":1514,"v":32},{"s":"tcp 6","t":1520,"v":24},{"s":"tcp 6","t":1526,"v":30},{"s":"tcp 6","t":1532,"v":20},{"s":"tcp 6","t":1538,"v":28},{"s":"tcp 6","t":1544,"v":34},{"s":"tcp 6","t":1550,"v":26},{"s":"tcp 6","t":1556,"v":30},{"s":"tcp 6","t":1562,"v":22},{"s":"tcp 6","t":1568,"v":28},{"s":"tcp 6","t":1574,"v":32},{"s":"tcp 6","t":1580,"v":24},{"s":"tcp 6","t":1588,"v":30},{"s":"tcp 6","t":1596,"v":26},{"s":"tcp 6","t":1602,"v":35},{"s":"tcp 6","t":1606,"v":46},{"s":"tcp 6","t":1612,"v":44},{"s":"tcp 6","t":1618,"v":47},{"s":"tcp 6","t":1624,"v":42},{"s":"tcp 6","t":1630,"v":46},{"s":"tcp 6","t":1636,"v":43},{"s":"tcp 6","t":1642,"v":50},{"s":"tcp 6","t":1648,"v":44},{"s":"tcp 6","t":1654,"v":48},{"s":"tcp 6","t":1660,"v":40},{"s":"tcp 6","t":1666,"v":50},{"s":"tcp 6","t":1672,"v":45},{"s":"tcp 6","t":1678,"v":55},{"s":"tcp 6","t":1684,"v":48},{"s":"tcp 6","t":1690,"v":42},{"s":"tcp 6","t":1696,"v":52},{"s":"tcp 6","t":1702,"v":46},{"s":"tcp 6","t":1708,"v":56},{"s":"tcp 6","t":1714,"v":50},{"s":"tcp 6","t":1720,"v":44},{"s":"tcp 6","t":1726,"v":54},{"s":"tcp 6","t":1732,"v":47},{"s":"tcp 6","t":1738,"v":42},{"s":"tcp 6","t":1744,"v":50},{"s":"tcp 6","t":1750,"v":45},{"s":"tcp 6","t":1756,"v":48},{"s":"tcp 6","t":1762,"v":42},{"s":"tcp 6","t":1768,"v":46},{"s":"tcp 6","t":1774,"v":40},{"s":"tcp 6","t":1780,"v":46},{"s":"tcp 6","t":1786,"v":42},{"s":"tcp 6","t":1792,"v":48},{"s":"tcp 6","t":1798,"v":44},{"s":"tcp 6","t":1801,"v":0},{"s":"tcp 6","t":2000,"v":0},
{"s":"da-lbe","t":0,"v":0},{"s":"da-lbe","t":400,"v":0},{"s":"da-lbe","t":403,"v":12},{"s":"da-lbe","t":406,"v":21},{"s":"da-lbe","t":412,"v":14},{"s":"da-lbe","t":418,"v":8},{"s":"da-lbe","t":424,"v":16},{"s":"da-lbe","t":430,"v":6},{"s":"da-lbe","t":436,"v":12},{"s":"da-lbe","t":442,"v":4},{"s":"da-lbe","t":448,"v":14},{"s":"da-lbe","t":454,"v":9},{"s":"da-lbe","t":460,"v":17},{"s":"da-lbe","t":466,"v":6},{"s":"da-lbe","t":472,"v":12},{"s":"da-lbe","t":478,"v":5},{"s":"da-lbe","t":484,"v":18},{"s":"da-lbe","t":490,"v":28},{"s":"da-lbe","t":496,"v":16},{"s":"da-lbe","t":502,"v":8},{"s":"da-lbe","t":508,"v":20},{"s":"da-lbe","t":514,"v":10},{"s":"da-lbe","t":520,"v":6},{"s":"da-lbe","t":526,"v":16},{"s":"da-lbe","t":532,"v":9},{"s":"da-lbe","t":538,"v":17},{"s":"da-lbe","t":544,"v":6},{"s":"da-lbe","t":550,"v":13},{"s":"da-lbe","t":556,"v":8},{"s":"da-lbe","t":562,"v":16},{"s":"da-lbe","t":568,"v":5},{"s":"da-lbe","t":574,"v":12},{"s":"da-lbe","t":580,"v":18},{"s":"da-lbe","t":586,"v":9},{"s":"da-lbe","t":592,"v":14},{"s":"da-lbe","t":598,"v":8},{"s":"da-lbe","t":602,"v":34},{"s":"da-lbe","t":606,"v":28},{"s":"da-lbe","t":612,"v":20},{"s":"da-lbe","t":618,"v":30},{"s":"da-lbe","t":624,"v":12},{"s":"da-lbe","t":630,"v":24},{"s":"da-lbe","t":636,"v":9},{"s":"da-lbe","t":642,"v":20},{"s":"da-lbe","t":648,"v":32},{"s":"da-lbe","t":654,"v":14},{"s":"da-lbe","t":660,"v":26},{"s":"da-lbe","t":666,"v":8},{"s":"da-lbe","t":672,"v":18},{"s":"da-lbe","t":678,"v":28},{"s":"da-lbe","t":684,"v":12},{"s":"da-lbe","t":690,"v":22},{"s":"da-lbe","t":696,"v":7},{"s":"da-lbe","t":702,"v":18},{"s":"da-lbe","t":708,"v":30},{"s":"da-lbe","t":714,"v":14},{"s":"da-lbe","t":720,"v":26},{"s":"da-lbe","t":726,"v":35},{"s":"da-lbe","t":732,"v":40},{"s":"da-lbe","t":738,"v":30},{"s":"da-lbe","t":744,"v":22},{"s":"da-lbe","t":750,"v":10},{"s":"da-lbe","t":756,"v":20},{"s":"da-lbe","t":762,"v":8},{"s":"da-lbe","t":768,"v":16},{"s":"da-lbe","t":774,"v":24},{"s":"da-lbe","t":780,"v":10},{"s":"da-lbe","t":786,"v":18},{"s":"da-lbe","t":792,"v":6},{"s":"da-lbe","t":798,"v":14},{"s":"da-lbe","t":804,"v":4},{"s":"da-lbe","t":810,"v":12},{"s":"da-lbe","t":816,"v":20},{"s":"da-lbe","t":822,"v":8},{"s":"da-lbe","t":828,"v":16},{"s":"da-lbe","t":834,"v":5},{"s":"da-lbe","t":840,"v":12},{"s":"da-lbe","t":846,"v":18},{"s":"da-lbe","t":852,"v":7},{"s":"da-lbe","t":858,"v":14},{"s":"da-lbe","t":864,"v":10},{"s":"da-lbe","t":870,"v":20},{"s":"da-lbe","t":876,"v":6},{"s":"da-lbe","t":882,"v":15},{"s":"da-lbe","t":888,"v":9},{"s":"da-lbe","t":894,"v":18},{"s":"da-lbe","t":900,"v":5},{"s":"da-lbe","t":906,"v":12},{"s":"da-lbe","t":912,"v":20},{"s":"da-lbe","t":918,"v":8},{"s":"da-lbe","t":924,"v":14},{"s":"da-lbe","t":930,"v":6},{"s":"da-lbe","t":936,"v":16},{"s":"da-lbe","t":942,"v":10},{"s":"da-lbe","t":948,"v":22},{"s":"da-lbe","t":954,"v":8},{"s":"da-lbe","t":960,"v":14},{"s":"da-lbe","t":966,"v":6},{"s":"da-lbe","t":972,"v":18},{"s":"da-lbe","t":978,"v":10},{"s":"da-lbe","t":984,"v":20},{"s":"da-lbe","t":990,"v":8},{"s":"da-lbe","t":996,"v":16},{"s":"da-lbe","t":1000,"v":30},{"s":"da-lbe","t":1004,"v":55},{"s":"da-lbe","t":1006,"v":74},{"s":"da-lbe","t":1010,"v":40},{"s":"da-lbe","t":1016,"v":28},{"s":"da-lbe","t":1022,"v":14},{"s":"da-lbe","t":1028,"v":8},{"s":"da-lbe","t":1034,"v":22},{"s":"da-lbe","t":1040,"v":36},{"s":"da-lbe","t":1046,"v":20},{"s":"da-lbe","t":1052,"v":42},{"s":"da-lbe","t":1058,"v":30},{"s":"da-lbe","t":1064,"v":18},{"s":"da-lbe","t":1070,"v":40},{"s":"da-lbe","t":1076,"v":26},{"s":"da-lbe","t":1082,"v":12},{"s":"da-lbe","t":1088,"v":20},{"s":"da-lbe","t":1094,"v":8},{"s":"da-lbe","t":1100,"v":16},{"s":"da-lbe","t":1106,"v":24},{"s":"da-lbe","t":1112,"v":10},{"s":"da-lbe","t":1118,"v":18},{"s":"da-lbe","t":1124,"v":22},{"s":"da-lbe","t":1130,"v":14},{"s":"da-lbe","t":1133,"v":0},{"s":"da-lbe","t":2000,"v":0}
],
"arrow": [{"t":1700,"a":-8.5,"b":-2.2,"h":-2.4}]
},
"spacing": 7,
"resolve": {"legend": {"color": "independent"}},
"vconcat": [
{
  "width": 541, "height": 231,
  "title": {"text": "(a) PID", "orient": "bottom", "offset": 9},
  "layer": [
    {"data": {"name": "pid"},
     "mark": {"type": "line", "strokeWidth": 1.3},
     "encoding": {
       "x": {"field": "t", "type": "quantitative", "scale": {"domain": [0, 2000], "nice": false}, "axis": {"values": [0, 500, 1000, 1500, 2000]}, "title": "simulation time (s)"},
       "y": {"field": "v", "type": "quantitative", "scale": {"domain": [0, 100], "nice": false}, "axis": {"values": [0, 20, 40, 60, 80, 100]}, "title": "Send rate Mbps (1s averages)"},
       "color": {"field": "s", "type": "nominal", "scale": {"domain": ["tcp 1","tcp 2","tcp 3","tcp 4","tcp 5","tcp 6","da-lbe"], "range": ["#0072BD","#D95319","#EDB120","#7E2F8E","#77AC30","#4DBEEE","#A2142F"]},
         "legend": {"orient": "none", "legendX": 9, "legendY": 46}}
     }},
    {"data": {"name": "arrow"},
     "mark": {"type": "rule", "color": "#ff0000", "strokeWidth": 1.2},
     "encoding": {"x": {"field": "t", "type": "quantitative", "title": "simulation time (s)"}, "y": {"field": "a", "type": "quantitative", "title": "Send rate Mbps (1s averages)"}, "y2": {"field": "b"}}},
    {"data": {"name": "arrow"},
     "mark": {"type": "point", "shape": "triangle-up", "filled": true, "color": "#ff0000", "size": 50, "opacity": 1},
     "encoding": {"x": {"field": "t", "type": "quantitative", "title": "simulation time (s)"}, "y": {"field": "h", "type": "quantitative", "title": "Send rate Mbps (1s averages)"}}}
  ]
},
{
  "width": 541, "height": 247,
  "title": {"text": "(b) MBC", "orient": "bottom", "offset": 1},
  "layer": [
    {"data": {"name": "mbc"},
     "mark": {"type": "line", "strokeWidth": 1.3},
     "encoding": {
       "x": {"field": "t", "type": "quantitative", "scale": {"domain": [0, 2000], "nice": false}, "axis": {"values": [0, 500, 1000, 1500, 2000]}, "title": "simulation time (s)"},
       "y": {"field": "v", "type": "quantitative", "scale": {"domain": [0, 100], "nice": false}, "axis": {"values": [0, 20, 40, 60, 80, 100]}, "title": "Send rate Mbps (1s averages)"},
       "color": {"field": "s", "type": "nominal", "scale": {"domain": ["tcp 1","tcp 2","tcp 3","tcp 4","tcp 5","tcp 6","da-lbe"], "range": ["#0072BD","#D95319","#EDB120","#7E2F8E","#77AC30","#4DBEEE","#A2142F"]},
         "legend": {"orient": "none", "legendX": 333, "legendY": 5}}
     }},
    {"data": {"name": "arrow"},
     "mark": {"type": "rule", "color": "#ff0000", "strokeWidth": 1.2},
     "encoding": {"x": {"field": "t", "type": "quantitative", "title": "simulation time (s)"}, "y": {"field": "a", "type": "quantitative", "title": "Send rate Mbps (1s averages)"}, "y2": {"field": "b"}}},
    {"data": {"name": "arrow"},
     "mark": {"type": "point", "shape": "triangle-up", "filled": true, "color": "#ff0000", "size": 50, "opacity": 1},
     "encoding": {"x": {"field": "t", "type": "quantitative", "title": "simulation time (s)"}, "y": {"field": "h", "type": "quantitative", "title": "Send rate Mbps (1s averages)"}}}
  ]
}
]
}
